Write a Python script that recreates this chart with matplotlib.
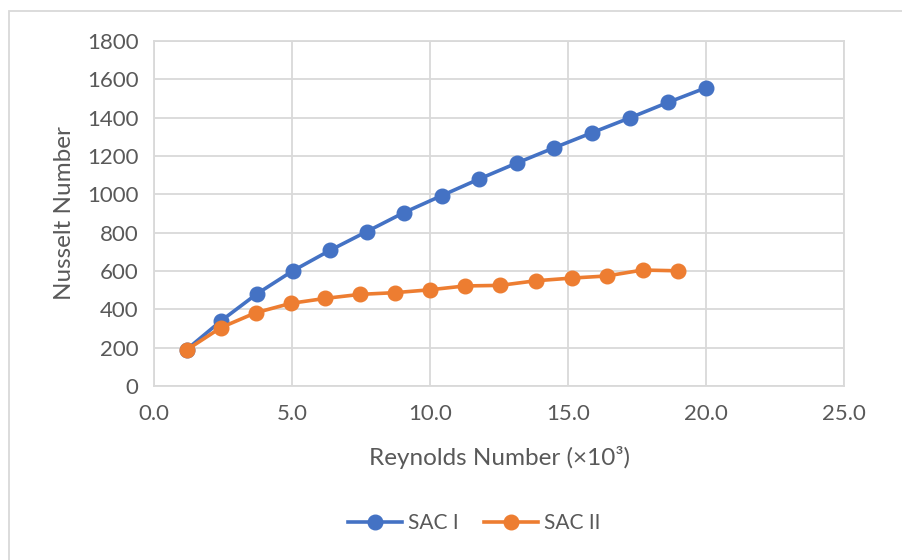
import matplotlib
matplotlib.use("Agg")
import matplotlib.pyplot as plt
from matplotlib.patches import Rectangle

plt.rcParams['font.family'] = ['Lato', 'DejaVu Sans']

# Reynolds number (x10^3) and Nusselt number for the two collectors
re_sac1 = [1.18, 2.43, 3.72, 5.02, 6.38, 7.70, 9.06, 10.42, 11.78, 13.14, 14.50, 15.88, 17.26, 18.63, 20.00]
nu_sac1 = [190, 340, 480, 600, 708, 805, 905, 993, 1080, 1163, 1243, 1322, 1400, 1480, 1556]

re_sac2 = [1.18, 2.43, 3.68, 4.95, 6.20, 7.46, 8.73, 10.00, 11.27, 12.54, 13.83, 15.13, 16.40, 17.70, 19.00]
nu_sac2 = [188, 305, 382, 431, 457, 478, 487, 502, 522, 525, 549, 563, 574, 605, 601]

series_labels = ["SAC I", "SAC II"]
x_ticks = [0.0, 5.0, 10.0, 15.0, 20.0, 25.0]
y_ticks = [0, 200, 400, 600, 800, 1000, 1200, 1400, 1600, 1800]

W, H = 902, 560
fig = plt.figure(figsize=(W / 100, H / 100), dpi=100)
fig.patch.set_facecolor("white")

# chart-area frame
fig.patches.append(Rectangle((9 / W, -0.05), 1.1, 1 - 11 / H + 0.05,
                             transform=fig.transFigure, fill=False,
                             edgecolor="#D9D9D9", linewidth=1.3))

ax = fig.add_axes([154 / W, 1 - 386 / H, (844 - 154) / W, (386 - 41) / H])

blue = "#4472C4"
orange = "#ED7D31"
ax.plot(re_sac1, nu_sac1, color=blue, linewidth=2.6, marker="o",
        markersize=10.5, label=series_labels[0], zorder=3)
ax.plot(re_sac2, nu_sac2, color=orange, linewidth=2.6, marker="o",
        markersize=10.5, label=series_labels[1], zorder=4)

ax.set_xlim(0, 25)
ax.set_ylim(0, 1800)
ax.set_xticks(x_ticks)
ax.set_xticklabels([f"{v:.1f}" for v in x_ticks])
ax.set_yticks(y_ticks)
ax.set_yticklabels([str(v) for v in y_ticks])

ax.grid(True, color="#D9D9D9", linewidth=1.3)
ax.set_axisbelow(True)
for s in ax.spines.values():
    s.set_color("#D9D9D9")
    s.set_linewidth(1.3)
ax.tick_params(length=0, labelsize=16, colors="#595959", pad=11)
ax.tick_params(axis="x", pad=13)

ax.set_xlabel("Reynolds Number (×10³)", fontsize=17.5, color="#595959", labelpad=16)
ax.set_ylabel("Nusselt Number", fontsize=17.5, color="#595959", labelpad=9)

leg = fig.legend(loc="center", bbox_to_anchor=(474 / W, 1 - 523 / H), ncol=2,
                 frameon=False, fontsize=15, handlelength=2.6,
                 columnspacing=1.2, handletextpad=0.3)
for t in leg.get_texts():
    t.set_color("#595959")

fig.savefig("out.png", dpi=100, facecolor="white")
